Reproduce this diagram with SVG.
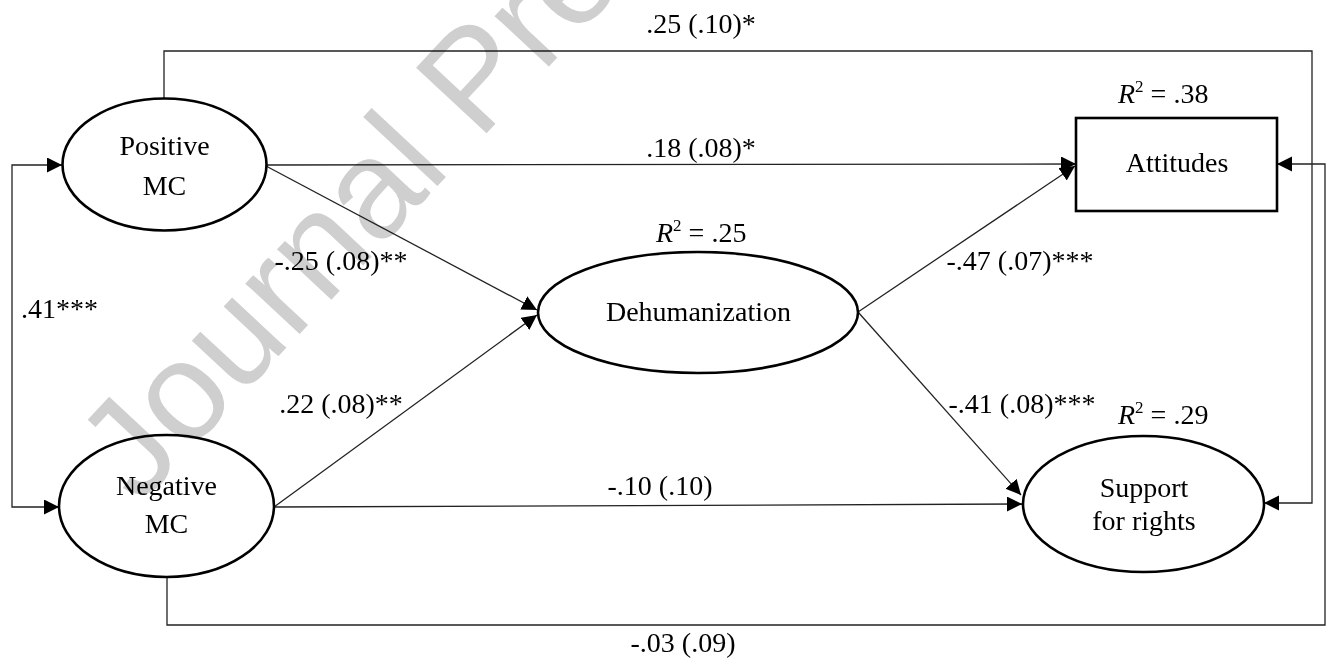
<svg xmlns="http://www.w3.org/2000/svg" width="1330" height="659" viewBox="0 0 1330 659">
<style>
.node{fill:#fff;stroke:#000;stroke-width:2.6}
.lbl{font-family:"Liberation Serif","Times New Roman",serif;font-size:28px;fill:#000}
.c{text-anchor:middle}
.conn{fill:none;stroke:#222;stroke-width:1.3}
.wm{font-family:"Liberation Sans",Arial,sans-serif;font-size:140px;fill:#cfcfcf;mix-blend-mode:multiply}
</style>
<defs>
<marker id="ah" markerUnits="userSpaceOnUse" markerWidth="16" markerHeight="16" refX="15" refY="7.5" orient="auto-start-reverse" viewBox="0 0 16 16">
<path d="M0,0 L15,7.5 L0,15 z" fill="#000"/>
</marker>
</defs>
<rect width="1330" height="659" fill="#fff"/>
<g id="connectors">
<line class="conn" x1="267" y1="165" x2="1076" y2="164" marker-end="url(#ah)"/>
<line class="conn" x1="266" y1="166" x2="537" y2="310" marker-end="url(#ah)"/>
<line class="conn" x1="274" y1="507" x2="537" y2="315" marker-end="url(#ah)"/>
<line class="conn" x1="274" y1="507" x2="1022" y2="504" marker-end="url(#ah)"/>
<line class="conn" x1="858" y1="312" x2="1075" y2="166" marker-end="url(#ah)"/>
<line class="conn" x1="858" y1="312" x2="1021" y2="495" marker-end="url(#ah)"/>
<path class="conn" d="M164,98 V51 H1312 V503 H1264" marker-end="url(#ah)"/>
<path class="conn" d="M167,577 V625 H1325 V164 H1277" marker-end="url(#ah)"/>
<path class="conn" d="M62,165 H12 V507 H59" marker-start="url(#ah)" marker-end="url(#ah)"/>
</g>
<g id="positive-mc">
<ellipse class="node" cx="164.5" cy="164.5" rx="102" ry="66"/>
<text class="lbl c" x="164.5" y="155">Positive</text>
<text class="lbl c" x="164.5" y="195">MC</text>
</g>
<g id="negative-mc">
<ellipse class="node" cx="166.5" cy="506" rx="107.5" ry="71"/>
<text class="lbl c" x="166.5" y="495">Negative</text>
<text class="lbl c" x="166.5" y="533">MC</text>
</g>
<g id="dehumanization">
<ellipse class="node" cx="698" cy="312.5" rx="160" ry="60.5"/>
<text class="lbl c" x="698.5" y="321">Dehumanization</text>
</g>
<g id="attitudes">
<rect class="node" x="1076" y="118" width="201" height="93" stroke-width="3"/>
<text class="lbl c" x="1177" y="172">Attitudes</text>
</g>
<g id="support">
<ellipse class="node" cx="1143.5" cy="504" rx="120.5" ry="68"/>
<text class="lbl c" x="1144" y="497">Support</text>
<text class="lbl c" x="1144" y="530">for rights</text>
</g>
<g id="labels">
<text class="lbl c" x="701" y="33">.25 (.10)*</text>
<text class="lbl c" x="701" y="157">.18 (.08)*</text>
<text class="lbl" x="1118" y="103"><tspan font-style="italic">R</tspan><tspan font-size="17" dy="-11">2</tspan><tspan dy="11"> = .38</tspan></text>
<text class="lbl" x="656" y="242"><tspan font-style="italic">R</tspan><tspan font-size="17" dy="-11">2</tspan><tspan dy="11"> = .25</tspan></text>
<text class="lbl" x="1118" y="424"><tspan font-style="italic">R</tspan><tspan font-size="17" dy="-11">2</tspan><tspan dy="11"> = .29</tspan></text>
<text class="lbl c" x="341" y="270">-.25 (.08)**</text>
<text class="lbl" x="21" y="318">.41***</text>
<text class="lbl c" x="1020" y="270">-.47 (.07)***</text>
<text class="lbl c" x="341" y="413">.22 (.08)**</text>
<text class="lbl c" x="1022" y="413">-.41 (.08)***</text>
<text class="lbl c" x="660" y="495">-.10 (.10)</text>
<text class="lbl c" x="683" y="652">-.03 (.09)</text>
</g>
<text class="wm" transform="translate(139,506) rotate(-47)">Journal Pre-proof</text>
</svg>
